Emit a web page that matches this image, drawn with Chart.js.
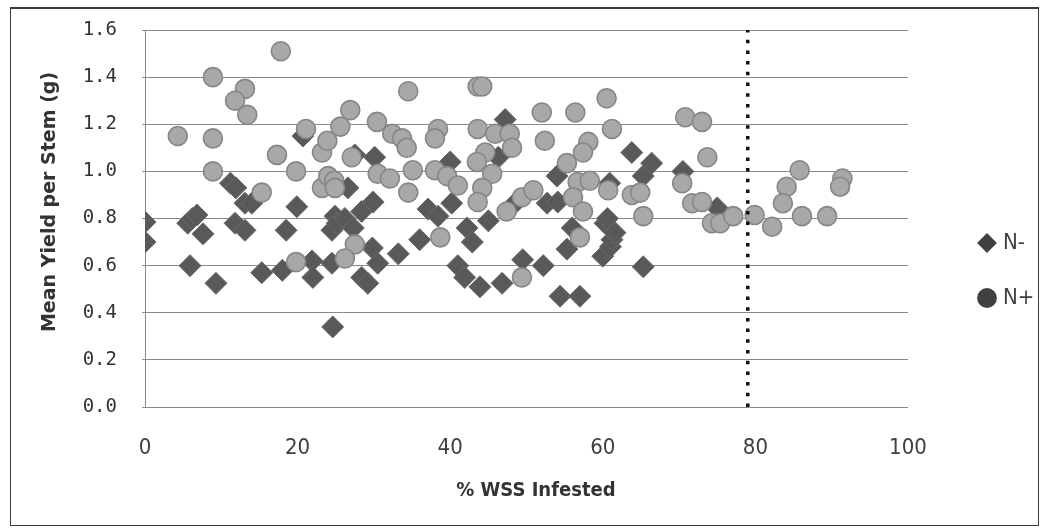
<!DOCTYPE html>
<html>
<head>
<meta charset="utf-8">
<script src="https://cdn.jsdelivr.net/npm/chart.js@4.4.1/dist/chart.umd.min.js"></script>
<style>
  html, body { margin: 0; padding: 0; background: #fff; }
  #wrap { position: relative; width: 1042px; height: 529px; }
  #frame { position: absolute; left: 10px; top: 7px; width: 1027px; height: 516px;
           border: 1px solid #3a3a3a; border-top-width: 2px; pointer-events: none; }
  canvas { display: block; }
</style>
</head>
<body>
<div id="wrap">
  <canvas id="chart" width="1042" height="529"></canvas>
  <div id="frame"></div>
</div>
<script>
// N- plots: % WSS infested and mean yield per stem (g)
const nMinusX = [0, 0, 5.6, 6.2, 6.8, 5.9, 7.6, 9.3, 11.2, 11.9, 13.1, 14.0, 11.8, 13.1, 15.3, 18.0, 18.5, 19.9, 20.7, 21.9,
  22.0, 24.5, 24.5, 24.6, 24.9, 25.2, 26.2, 27.3, 26.6, 28.4, 29.9, 27.5, 30.1, 29.8, 30.5, 28.4, 29.2, 33.2, 36.0, 37.1,
  38.4, 40.2, 40.0, 41.0, 41.9, 42.2, 42.9, 43.9, 45.0, 46.3, 47.2, 46.8, 48.5, 49.5, 52.2, 52.7, 54.1, 54.0, 54.4, 55.3,
  56.0, 57.0, 60.0, 60.3, 60.6, 60.9, 61.0, 61.2, 61.6, 63.8, 65.3, 65.3, 66.4, 70.5, 75.0];
const nMinusY = [0.785, 0.70, 0.78, 0.80, 0.815, 0.60, 0.735, 0.525, 0.95, 0.93, 0.865, 0.865, 0.78, 0.75, 0.57, 0.58, 0.75, 0.85, 1.15, 0.62,
  0.55, 0.75, 0.61, 0.34, 0.81, 0.78, 0.80, 0.76, 0.93, 0.83, 0.87, 1.07, 1.06, 0.675, 0.61, 0.55, 0.525, 0.65, 0.71, 0.84,
  0.81, 0.865, 1.04, 0.60, 0.55, 0.76, 0.70, 0.51, 0.79, 1.06, 1.22, 0.525, 0.865, 0.625, 0.60, 0.865, 0.87, 0.98, 0.47, 0.67,
  0.76, 0.47, 0.64, 0.78, 0.80, 0.95, 0.68, 0.71, 0.74, 1.08, 0.98, 0.595, 1.035, 1.00, 0.845];

// N+ plots
const nPlusX = [4.3, 8.9, 8.9, 8.9, 13.1, 11.8, 13.4, 17.8, 17.3, 19.8, 15.3, 21.1, 19.8, 23.2, 23.9, 23.2, 24.0, 34.5, 43.6, 44.2,
  26.9, 25.6, 30.4, 32.4, 33.7, 34.3, 38.4, 38.0, 43.6, 45.9, 47.8, 48.1, 44.6, 43.5, 45.5, 27.1, 24.8, 24.9, 30.5, 32.1,
  35.1, 34.5, 38.0, 39.6, 41.0, 44.2, 43.6, 47.4, 49.4, 38.7, 27.5, 26.2, 49.4, 60.5, 52.0, 56.4, 61.2, 52.4, 70.8, 73.0,
  73.7, 58.1, 57.4, 55.3, 56.7, 58.3, 50.9, 56.1, 60.7, 63.8, 64.9, 70.4, 71.7, 73.0, 74.3, 57.4, 65.3, 57.0, 85.8, 91.4,
  91.1, 84.1, 83.6, 75.4, 77.1, 79.9, 82.2, 86.1, 89.4];
const nPlusY = [1.15, 1.40, 1.14, 1.00, 1.35, 1.30, 1.24, 1.51, 1.07, 1.00, 0.91, 1.18, 0.615, 1.08, 1.13, 0.93, 0.98, 1.34, 1.36, 1.36,
  1.26, 1.19, 1.21, 1.16, 1.14, 1.10, 1.18, 1.14, 1.18, 1.16, 1.16, 1.10, 1.08, 1.04, 0.99, 1.06, 0.96, 0.93, 0.99, 0.97,
  1.005, 0.91, 1.005, 0.98, 0.94, 0.93, 0.87, 0.83, 0.89, 0.72, 0.69, 0.63, 0.55, 1.31, 1.25, 1.25, 1.18, 1.13, 1.23, 1.21,
  1.06, 1.125, 1.08, 1.035, 0.955, 0.96, 0.92, 0.89, 0.92, 0.90, 0.91, 0.95, 0.865, 0.87, 0.78, 0.83, 0.81, 0.72, 1.005, 0.97,
  0.935, 0.935, 0.865, 0.78, 0.81, 0.815, 0.765, 0.81, 0.81];

// infestation threshold marker
const thresholdX = 79;

const xTicks = ['0', '20', '40', '60', '80', '100'];
const yTicks = ['0.0', '0.2', '0.4', '0.6', '0.8', '1.0', '1.2', '1.4', '1.6'];

const toPoints = (xs, ys) => xs.map((x, i) => ({ x, y: ys[i] }));

new Chart(document.getElementById('chart'), {
  type: 'scatter',
  data: {
    datasets: [
      {
        label: 'N-',
        data: toPoints(nMinusX, nMinusY),
        pointStyle: 'rectRot',
        pointRadius: 11,
        pointHoverRadius: 11,
        backgroundColor: '#595959',
        borderColor: '#6b6b6b',
        borderWidth: 1,
        order: 2
      },
      {
        label: 'N+',
        data: toPoints(nPlusX, nPlusY),
        pointStyle: 'circle',
        pointRadius: 9.5,
        pointHoverRadius: 9.5,
        backgroundColor: '#a8a8a8',
        borderColor: '#868686',
        borderWidth: 1.6,
        order: 1
      },
      {
        label: 'threshold',
        type: 'line',
        data: [{ x: thresholdX, y: 0 }, { x: thresholdX, y: 1.6 }],
        borderColor: '#111111',
        borderWidth: 3.5,
        borderDash: [3.5, 7.2],
        pointRadius: 0,
        fill: false,
        order: 0
      }
    ]
  },
  options: {
    responsive: false,
    animation: false,
    layout: { padding: { left: 12, top: 30, right: 3, bottom: 18 } },
    plugins: {
      tooltip: { enabled: false },
      legend: {
        position: 'right',
        maxWidth: 90,
        labels: {
          usePointStyle: true,
          boxWidth: 10,
          boxHeight: 14,
          padding: 33,
          color: '#404040',
          font: { family: 'DejaVu Sans Condensed', size: 22 },
          filter: (item) => item.text !== 'threshold',
          sort: (a, b) => a.datasetIndex - b.datasetIndex,
          generateLabels: (chart) =>
            Chart.defaults.plugins.legend.labels.generateLabels(chart).map((item) => ({
              ...item,
              fillStyle: '#404040',
              strokeStyle: '#404040',
              lineWidth: 0,
              fontColor: '#404040'
            }))
        }
      }
    },
    scales: {
      x: {
        type: 'linear',
        min: 0,
        max: 100,
        afterFit: (s) => { s.height = 104; },
        grid: { display: false },
        border: { display: false },
        ticks: {
          stepSize: 20,
          padding: 20,
          color: '#404040',
          font: { family: 'DejaVu Sans Condensed', size: 22 },
          callback: (v, i) => xTicks[i]
        },
        title: {
          display: true,
          text: '   % WSS Infested',
          color: '#333333',
          font: { family: 'DejaVu Sans Condensed', size: 20, weight: 'bold' },
          padding: { top: 0, bottom: 8 }
        }
      },
      y: {
        type: 'linear',
        min: 0,
        max: 1.6,
        afterFit: (s) => { s.width = 133; },
        grid: { color: '#8a8a8a', lineWidth: 1, drawTicks: true, tickLength: 3 },
        border: { display: true, color: '#8a8a8a', width: 1 },
        ticks: {
          stepSize: 0.2,
          padding: 25,
          color: '#333333',
          font: { family: 'DejaVu Sans Mono', size: 19, lineHeight: 0.5 },
          callback: (v, i) => yTicks[i]
        },
        title: {
          display: true,
          text: '     Mean Yield per Stem (g)',
          color: '#333333',
          font: { family: 'DejaVu Sans', size: 19, weight: 'bold' },
          padding: { top: 26.6, bottom: 0 }
        }
      },
      yRight: {
        type: 'linear',
        position: 'right',
        afterFit: (s) => { s.width = 41; },
        grid: { display: false, drawTicks: false },
        border: { display: false },
        ticks: { display: false }
      }
    }
  }
});
</script>
</body>
</html>
